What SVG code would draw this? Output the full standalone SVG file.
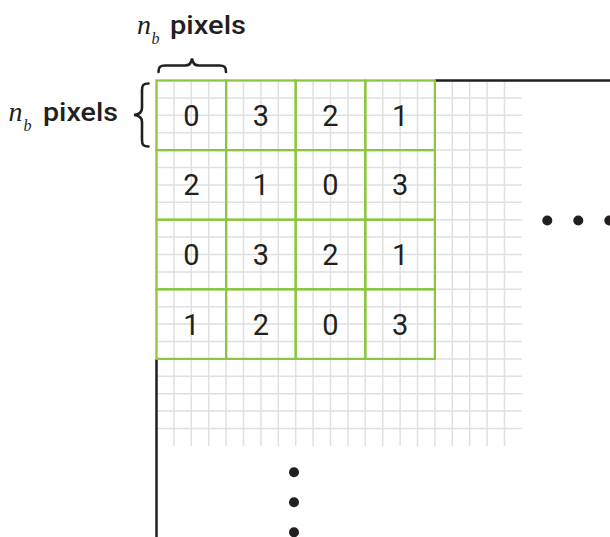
<svg xmlns="http://www.w3.org/2000/svg" width="610" height="537" viewBox="0 0 610 537">
  <style>
    .fine { fill: none; stroke: #e0e0e0; stroke-width: 1.5; }
    .block { fill: none; stroke: #8cc63f; stroke-width: 2.2; }
    .edge { fill: none; stroke: #231f20; stroke-width: 2.5; }
    .brace { fill: none; stroke: #231f20; stroke-width: 2.6; stroke-linecap: round; }
    .dot { fill: #231f20; }
    .idx { font-family: Roboto, "Liberation Sans", sans-serif; font-size: 29px; fill: #231f20; text-anchor: middle; }
    .var { font-family: "Liberation Serif", serif; font-style: italic; fill: #231f20; }
    .lbl { font-family: Roboto, "Liberation Sans", sans-serif; font-weight: 500; font-size: 26px; fill: #231f20; }
  </style>

  <rect width="610" height="537" fill="#ffffff"/>

  <!-- pixel grid, 17.4 px per pixel -->
  <g id="pixel-grid">
    <path class="fine" d="
      M156.5,80.5V445.9 M173.9,80.5V445.9 M191.3,80.5V445.9 M208.7,80.5V445.9 M226.1,80.5V445.9
      M243.5,80.5V445.9 M260.9,80.5V445.9 M278.3,80.5V445.9 M295.7,80.5V445.9 M313.1,80.5V445.9
      M330.5,80.5V445.9 M347.9,80.5V445.9 M365.3,80.5V445.9 M382.7,80.5V445.9 M400.1,80.5V445.9
      M417.5,80.5V445.9 M434.9,80.5V445.9 M452.3,80.5V445.9 M469.7,80.5V445.9 M487.1,80.5V445.9
      M504.5,80.5V445.9
      M156.5,80.5H521.9 M156.5,97.9H521.9 M156.5,115.3H521.9 M156.5,132.7H521.9 M156.5,150.1H521.9
      M156.5,167.5H521.9 M156.5,184.9H521.9 M156.5,202.3H521.9 M156.5,219.7H521.9 M156.5,237.1H521.9
      M156.5,254.5H521.9 M156.5,271.9H521.9 M156.5,289.3H521.9 M156.5,306.7H521.9 M156.5,324.1H521.9
      M156.5,341.5H521.9 M156.5,358.9H521.9 M156.5,376.3H521.9 M156.5,393.7H521.9 M156.5,411.1H521.9
      M156.5,428.5H521.9"/>
  </g>

  <!-- image boundary -->
  <g id="image-edges">
    <path class="edge" d="M434.9,80.5H610 M156.5,358.9V537"/>
  </g>

  <!-- 4x4 blocks of n_b x n_b pixels with their indices -->
  <g id="blocks">
    <g id="block-0-0"><rect class="block" x="156.5" y="80.5" width="69.6" height="69.6"/><text class="idx" x="191.3" y="125.8">0</text></g>
    <g id="block-0-1"><rect class="block" x="226.1" y="80.5" width="69.6" height="69.6"/><text class="idx" x="260.9" y="125.8">3</text></g>
    <g id="block-0-2"><rect class="block" x="295.7" y="80.5" width="69.6" height="69.6"/><text class="idx" x="330.5" y="125.8">2</text></g>
    <g id="block-0-3"><rect class="block" x="365.3" y="80.5" width="69.6" height="69.6"/><text class="idx" x="400.1" y="125.8">1</text></g>

    <g id="block-1-0"><rect class="block" x="156.5" y="150.1" width="69.6" height="69.6"/><text class="idx" x="191.3" y="195.4">2</text></g>
    <g id="block-1-1"><rect class="block" x="226.1" y="150.1" width="69.6" height="69.6"/><text class="idx" x="260.9" y="195.4">1</text></g>
    <g id="block-1-2"><rect class="block" x="295.7" y="150.1" width="69.6" height="69.6"/><text class="idx" x="330.5" y="195.4">0</text></g>
    <g id="block-1-3"><rect class="block" x="365.3" y="150.1" width="69.6" height="69.6"/><text class="idx" x="400.1" y="195.4">3</text></g>

    <g id="block-2-0"><rect class="block" x="156.5" y="219.7" width="69.6" height="69.6"/><text class="idx" x="191.3" y="265">0</text></g>
    <g id="block-2-1"><rect class="block" x="226.1" y="219.7" width="69.6" height="69.6"/><text class="idx" x="260.9" y="265">3</text></g>
    <g id="block-2-2"><rect class="block" x="295.7" y="219.7" width="69.6" height="69.6"/><text class="idx" x="330.5" y="265">2</text></g>
    <g id="block-2-3"><rect class="block" x="365.3" y="219.7" width="69.6" height="69.6"/><text class="idx" x="400.1" y="265">1</text></g>

    <g id="block-3-0"><rect class="block" x="156.5" y="289.3" width="69.6" height="69.6"/><text class="idx" x="191.3" y="334.6">1</text></g>
    <g id="block-3-1"><rect class="block" x="226.1" y="289.3" width="69.6" height="69.6"/><text class="idx" x="260.9" y="334.6">2</text></g>
    <g id="block-3-2"><rect class="block" x="295.7" y="289.3" width="69.6" height="69.6"/><text class="idx" x="330.5" y="334.6">0</text></g>
    <g id="block-3-3"><rect class="block" x="365.3" y="289.3" width="69.6" height="69.6"/><text class="idx" x="400.1" y="334.6">3</text></g>
  </g>

  <!-- block size annotations -->
  <g id="width-label">
    <path class="brace" d="M158.5,72 C158.5,67 160,65.5 165,65.5 L185,65.5 C189,65.5 191.5,63 192,58.5 C192.5,63 195,65.5 199,65.5 L219.5,65.5 C224.5,65.5 226,67 226,72"/>
    <text class="var" x="137" y="34" font-size="28">n</text>
    <text class="var" x="151.5" y="44" font-size="16">b</text>
    <text class="lbl" x="170" y="34" textLength="76" lengthAdjust="spacingAndGlyphs">pixels</text>
  </g>
  <g id="height-label">
    <path class="brace" d="M148.5,83.5 C143.5,83.5 142,85 142,90 L142,108 C142,112 139.5,114.5 134,115 C139.5,115.5 142,118 142,122 L142,140 C142,145 143.5,146.5 148.5,146.5"/>
    <text class="var" x="8.5" y="121" font-size="28">n</text>
    <text class="var" x="23.5" y="131" font-size="16">b</text>
    <text class="lbl" x="43" y="121" textLength="75" lengthAdjust="spacingAndGlyphs">pixels</text>
  </g>

  <!-- continuation marks -->
  <g id="ellipsis-right">
    <circle class="dot" cx="547.3" cy="220.5" r="5"/>
    <circle class="dot" cx="578.3" cy="220.5" r="5"/>
    <circle class="dot" cx="609.3" cy="220.5" r="5"/>
  </g>
  <g id="ellipsis-down">
    <circle class="dot" cx="294" cy="472.3" r="5"/>
    <circle class="dot" cx="294" cy="502.3" r="5"/>
    <circle class="dot" cx="294" cy="532.3" r="5"/>
  </g>
</svg>
